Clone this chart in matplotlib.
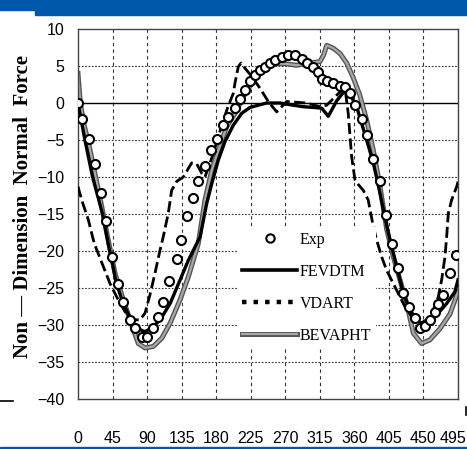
import matplotlib
matplotlib.use("Agg")
import matplotlib.pyplot as plt
import matplotlib.patheffects as pe
import matplotlib.transforms as mtransforms
from matplotlib.lines import Line2D
from matplotlib.patches import Rectangle

plt.rcParams['font.family'] = ['Liberation Sans Narrow', 'DejaVu Sans Condensed',
                               'Liberation Sans', 'DejaVu Sans']

# crank angle (deg) and measured / computed normal force
exp_x = [0, 5, 14, 22, 29.5, 36.5, 44.7, 52.5, 59, 67.7, 74.2, 83, 90.3, 98, 103.8,
         111, 119, 128.5, 134, 142.4, 150.2, 156.7, 165.4, 172.8, 180.6, 189.3,
         195.8, 204.5, 211, 218, 224, 230, 237, 243.6, 250, 256.6, 265.3, 274,
         282.7, 291.4, 297.9, 306.5, 313, 318, 324, 332.6, 341.3, 347.8, 354.3,
         360.8, 369.5, 376, 384.7, 393.4, 400.8, 408.6, 417.2, 422.9, 431.6, 439,
         445.5, 452, 458.5, 465, 469.3, 475.9, 484.6, 492.4]
exp_y = [0, -2.2, -4.9, -8.2, -12.1, -16, -20.8, -24.4, -26.9, -29.3, -30.4, -31.6,
         -31.6, -30.4, -28.9, -26.9, -24.1, -21.1, -18.5, -15.3, -12.9, -10.6, -8.5,
         -6.4, -4.9, -3.0, -1.9, -0.7, 0.5, 1.8, 3.0, 3.8, 4.4, 4.9, 5.4, 5.8, 6.2,
         6.5, 6.5, 5.9, 5.4, 4.9, 4.2, 3.3, 3.0, 2.7, 2.3, 2.2, 1.3, -0.3, -2.1,
         -4.3, -7.5, -10.6, -15.1, -19, -22.3, -25.7, -27.5, -29.1, -30.4, -30.2,
         -29.3, -28.2, -27.1, -25.9, -23, -20.5]

fev_x = [0, 9, 19, 32, 41, 44, 50, 59, 68, 76, 87, 96, 107, 120, 133, 144, 159,
         167.6, 174.2, 182.8, 191.5, 202.3, 213.2, 224, 234.8, 245.8, 263, 280.5,
         293.5, 306.5, 317.5, 326, 337, 350, 363, 376, 384.7, 393, 402, 406.4,
         415.1, 423.8, 432.5, 441.2, 449.8, 458.5, 469.3, 480.2, 491, 495]
fev_y = [0, -5, -10, -15, -19.9, -21.2, -24.4, -27.1, -29.1, -30.4, -30.9, -30.4,
         -29.3, -27.1, -23.9, -21.2, -18.1, -13.6, -10.9, -7.7, -5.2, -3, -1.4,
         -0.6, -0.3, 0, 0, -0.3, -0.5, -0.6, -0.7, -1.8, 0.3, 2, -0.5, -5, -8.1,
         -12, -16.5, -18.5, -22.1, -25.7, -28, -29.3, -30, -29.6, -28.4, -27.1,
         -25.5, -23.9]

vd_x = [0, 4.8, 13.5, 20, 22, 33, 41.7, 50.4, 61.2, 72, 80.8, 87.3, 93.8, 100.3,
        106.8, 111, 117.6, 122, 128.5, 137.2, 148, 154.6, 161.1, 165.4, 175, 185,
        195, 202.3, 204.5, 208.8, 212.3, 217.5, 226.3, 237, 247.9, 258.8, 265.3,
        271.8, 285, 297.9, 315.2, 324, 332.6, 341.3, 347.8, 352, 356.5, 360.8, 365,
        371.6, 378, 384.7, 389, 395.6, 402, 410.7, 419.4, 428.2, 436.8, 445.5,
        454.2, 462.8, 469.3, 473.7, 478, 480.2, 482.4, 486.7, 493.3, 495]
vd_y = [-11.3, -13.1, -15.8, -18.5, -19.2, -22.1, -24.4, -26.2, -28.2, -29.3, -29.3,
        -28.4, -25.9, -23, -19.9, -18.1, -14.9, -11.8, -10.6, -10, -8.1, -8.2, -9.5,
        -10, -7.2, -3.8, -0.6, 1.3, 2.7, 4.9, 5.4, 4.7, 3.6, 2, 0.2, -1.2, -0.5, 0.2,
        0.1, 0, -0.5, -0.3, 0.6, 1.5, 2, -1.4, -7.3, -10.4, -11, -11.8, -13.1, -16.7,
        -18.5, -20.8, -22.6, -24.4, -26.2, -28, -29.1, -29.8, -29.3, -28, -26.2,
        -23.9, -20.8, -18.1, -14.9, -13.1, -11.3, -10.6]

bev_x = [0, 3, 8, 14, 22, 30, 37.4, 48.2, 59, 70, 78.5, 87.3, 98, 109, 119.8, 132.9,
         143.7, 156.7, 165.4, 174.2, 182.8, 193.7, 204.5, 215.3, 228.3, 241.4, 254.4,
         270, 284.8, 302.2, 315.2, 320, 324, 332.6, 341.3, 350, 358.6, 367, 376,
         384.7, 393, 402, 410, 419.4, 428.2, 436.8, 447.6, 458.5, 471.5, 484.6, 495]
bev_y = [4, 0, -3, -5.5, -9.5, -13.5, -17.5, -23, -26.6, -30, -32.5, -33.1, -32.9,
         -31.8, -29.8, -26.6, -23.5, -19, -13.1, -9.1, -6.4, -3.2, -1.4, 0.8, 3, 4.5,
         5.3, 5.3, 5.1, 5.4, 5.6, 6.5, 7.8, 7.4, 6.7, 5.4, 3.4, 1.1, -2.3, -6.4, -11,
         -17, -20.5, -23.9, -27.1, -31.1, -32.5, -32, -30.5, -28.5, -25.5]

x_ticks = list(range(0, 496, 45))
y_ticks = list(range(-40, 11, 5))

fig = plt.figure(figsize=(4.67, 4.49), dpi=100)
blue = '#0058ab'
# header band and bottom rule
fig.patches.append(Rectangle((0, 1 - 10 / 449), 1, 10 / 449, transform=fig.transFigure,
                             color=blue, zorder=0))
fig.patches.append(Rectangle((35 / 467, 1 - 15 / 449), 1 - 35 / 467, 5 / 449,
                             transform=fig.transFigure, color=blue, zorder=0))
fig.patches.append(Rectangle((0, 0), 1, 2.5 / 449, transform=fig.transFigure,
                             color=blue, zorder=0))
fig.lines.append(Line2D([0, 13 / 467], [48 / 449, 48 / 449], transform=fig.transFigure,
                        color='black', lw=1.2))
fig.lines.append(Line2D([466 / 467, 466 / 467], [34 / 449, 42 / 449],
                        transform=fig.transFigure, color='black', lw=1.2))

ax = fig.add_axes([78 / 467, 50 / 449, 380 / 467, 370 / 449])

bev_fx = [pe.Stroke(linewidth=3.6, foreground='#555555'), pe.Normal()]

ax.plot(exp_x, exp_y, linestyle='none', marker='o', markersize=6.5, mfc='white',
        mec='black', mew=1.5, zorder=4)
ax.plot(fev_x, fev_y, color='black', lw=2.4, zorder=3)
ax.plot(vd_x, vd_y, color='black', lw=2.0, linestyle=(0, (4, 1.6)), zorder=3)
ax.plot(bev_x, bev_y, color='#a8a8a8', lw=1.6, zorder=2, path_effects=bev_fx)

ax.axhline(0, color='black', lw=1.0, zorder=1)
for v in x_ticks[1:]:
    ax.axvline(v, color='#333333', lw=0.8, linestyle=(0, (3, 3)), zorder=0)
for v in y_ticks[1:-1]:
    if v != 0:
        ax.axhline(v, color='#333333', lw=0.8, linestyle=(0, (1.5, 1.5)), zorder=0)

ax.set_xlim(0, 495)
ax.set_ylim(-40, 10)
ax.set_xticks(x_ticks)
ax.set_yticks(y_ticks)
ax.tick_params(axis='both', length=0, labelsize=11.5)
ax.tick_params(axis='x', pad=23)
ax.tick_params(axis='y', pad=10)
for s in ax.spines.values():
    s.set_color('#444444')
    s.set_linewidth(1.0)

# keep the last angle label inside the figure edge
last = ax.get_xticklabels()[-1]
last.set_transform(last.get_transform() +
                   mtransforms.ScaledTranslation(-5 / 100, 0, fig.dpi_scale_trans))

ax.set_ylabel('Non — Dimension  Normal  Force', family=['Liberation Serif', 'DejaVu Serif'],
              fontweight='bold', fontsize=15)
ax.yaxis.set_label_coords(-0.118, 0.52)

handles = [
    Line2D([], [], linestyle='none', marker='o', markersize=6, mfc='white',
           mec='black', mew=1.5),
    Line2D([], [], color='black', lw=2.6),
    Line2D([], [], color='black', lw=3.2, linestyle=(0, (1, 1.6))),
    Line2D([], [], color='#a8a8a8', lw=1.6, path_effects=bev_fx),
]
labels = ['Exp', 'FEVDTM', 'VDART', 'BEVAPHT']
leg = ax.legend(handles, labels, loc='upper left', bbox_to_anchor=(0.42, 0.465),
                frameon=True, facecolor='white', edgecolor='none', framealpha=1,
                fancybox=False, handlelength=3.4, handletextpad=0.2,
                labelspacing=1.0, borderpad=0.3, borderaxespad=0,
                prop={'family': ['Liberation Serif', 'DejaVu Serif'], 'size': 11.5})
leg.set_zorder(5)

fig.savefig('out.png', dpi=100)
